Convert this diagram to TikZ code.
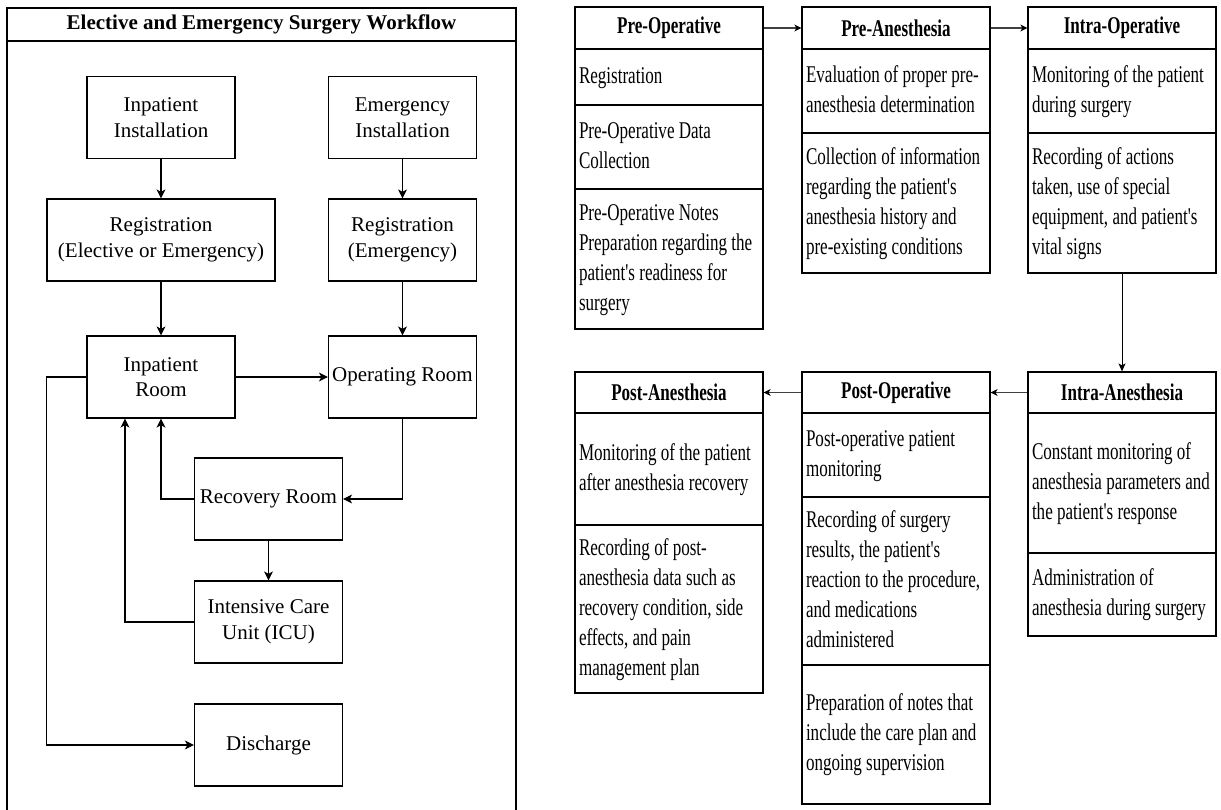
\documentclass[tikz,border=0pt]{standalone}
\usepackage{fontspec}
\setmainfont{Liberation Serif}
\newfontfamily\narrowfont[FakeStretch=0.71]{Liberation Serif}
\usetikzlibrary{arrows.meta}
\newcommand{\celltext}[1]{\begin{tabular}{@{}l@{}}#1\end{tabular}}
\newcommand{\narrowtext}{\narrowfont\fontsize{24}{30}\selectfont\spaceskip=4.3pt plus 1pt minus 1pt\relax}
\begin{document}
\begin{tikzpicture}[x=1pt,y=-1pt,
  lbox/.style={draw, line width=1.2pt, minimum width=148pt, minimum height=82pt, align=flush center, inner sep=1pt, font=\fontsize{21}{25.5}\selectfont},
  larr/.style={draw, line width=1.1pt, -{Stealth[length=9pt,width=9pt,inset=2.5pt]}},
  titlebar/.style={draw, line width=1.1pt, minimum width=509pt, minimum height=33pt, inner sep=0pt, font=\bfseries\fontsize{21}{25}\selectfont},
  hdr/.style={draw, line width=1.2pt, minimum width=188pt, inner sep=0pt, align=flush center, font=\narrowtext\bfseries},
  cell/.style={draw, line width=1.2pt, text width=180pt, inner xsep=4pt, inner ysep=0pt, align=flush left, font=\narrowtext},
  rarr/.style={draw=black!75, line width=1.4pt, -{Stealth[length=7pt,width=7pt,inset=2pt,color=black]}},
  varr/.style={draw, line width=1pt, -{Stealth[length=8pt,width=7pt,inset=2pt]}}
]
\useasboundingbox (0,0) rectangle (1221,809);

% ---------- left panel ----------
\draw[line width=1.1pt] (7,812) -- (7,8) -- (516,8) -- (516,812);
\node[titlebar] (title) at (261.5,24.5) {Elective and Emergency Surgery Workflow};

\node[lbox] (ii)   at (161,117.5)  {Inpatient\\Installation};
\node[lbox] (ei)   at (402.5,117.5) {Emergency\\Installation};
\node[lbox, minimum width=228pt] (rege) at (161,240) {Registration\\(Elective or Emergency)};
\node[lbox] (regm) at (402.5,240) {Registration\\(Emergency)};
\node[lbox] (ir)   at (161,377)  {Inpatient\\Room};
\node[lbox] (or)   at (402.5,377) {Operating Room};
\node[lbox] (rr)   at (268.5,499) {Recovery Room};
\node[lbox] (icu)  at (268.5,622) {Intensive Care\\Unit (ICU)};
\node[lbox] (dis)  at (268.5,745) {Discharge};

\draw[larr] (ii.south) -- (rege.north);
\draw[larr] (ei.south) -- (regm.north);
\draw[larr] (rege.south) -- (ir.north);
\draw[larr] (regm.south) -- (or.north);
\draw[larr] (ir.east) -- (or.west);
\draw[larr] (ir.west) -- ++(-40,0) |- (dis.west);
\draw[larr] (or.south) |- (rr.east);
\draw[larr] (rr.west) -| (ir.south);
\draw[larr] (rr.south) -- (icu.north);
\draw[larr] (icu.west) -| ([xshift=-36pt]ir.south);

% ---------- right panel: top row ----------
% Pre-Operative
\node[hdr, minimum height=42pt] (poh) at (669,28) {Pre-Operative};
\node[cell, minimum height=56pt] (po1) at (669,77) {\celltext{Registration}};
\node[cell, minimum height=84pt] (po2) at (669,147) {\celltext{Pre-Operative Data\\Collection}};
\node[cell, minimum height=140pt] (po3) at (669,259) {\celltext{Pre-Operative Notes\\Preparation regarding the\\patient's readiness for\\surgery}};
% Pre-Anesthesia
\node[hdr, minimum height=42pt] (pah) at (896,28) {Pre-Anesthesia};
\node[cell, minimum height=84pt] (pa1) at (896,91) {\celltext{Evaluation of proper pre-\\anesthesia determination}};
\node[cell, minimum height=140pt] (pa2) at (896,203) {\celltext{Collection of information\\regarding the patient's\\anesthesia history and\\pre-existing conditions}};
% Intra-Operative
\node[hdr, minimum height=42pt] (ioh) at (1122,28) {Intra-Operative};
\node[cell, minimum height=84pt] (io1) at (1122,91) {\celltext{Monitoring of the patient\\during surgery}};
\node[cell, minimum height=140pt] (io2) at (1122,203) {\celltext{Recording of actions\\taken, use of special\\equipment, and patient's\\vital signs}};

% ---------- right panel: bottom row ----------
% Post-Anesthesia
\node[hdr, minimum height=41pt] (pnh) at (669,392.5) {Post-Anesthesia};
\node[cell, minimum height=112pt] (pn1) at (669,469) {\celltext{Monitoring of the patient\\after anesthesia recovery}};
\node[cell, minimum height=168pt] (pn2) at (669,609) {\celltext{Recording of post-\\anesthesia data such as\\recovery condition, side\\effects, and pain\\management plan}};
% Post-Operative
\node[hdr, minimum height=41pt] (pph) at (896,392.5) {Post-Operative};
\node[cell, minimum height=84pt] (pp1) at (896,455) {\celltext{Post-operative patient\\monitoring}};
\node[cell, minimum height=168pt] (pp2) at (896,581) {\celltext{Recording of surgery\\results, the patient's\\reaction to the procedure,\\and medications\\administered}};
\node[cell, minimum height=139pt] (pp3) at (896,734.5) {\celltext{Preparation of notes that\\include the care plan and\\ongoing supervision}};
% Intra-Anesthesia
\node[hdr, minimum height=41pt] (iah) at (1122,392.5) {Intra-Anesthesia};
\node[cell, minimum height=140pt] (ia1) at (1122,483) {\celltext{Constant monitoring of\\anesthesia parameters and\\the patient's response}};
\node[cell, minimum height=83pt] (ia2) at (1122,594.5) {\celltext{Administration of\\anesthesia during surgery}};

% ---------- right panel connectors ----------
\draw[rarr] (poh.east) -- (pah.west);
\draw[rarr] (pah.east) -- (ioh.west);
\draw[varr] (io2.south) -- (iah.north);
\draw[rarr] (iah.west) -- (pph.east);
\draw[rarr] (pph.west) -- (pnh.east);
\end{tikzpicture}
\end{document}
